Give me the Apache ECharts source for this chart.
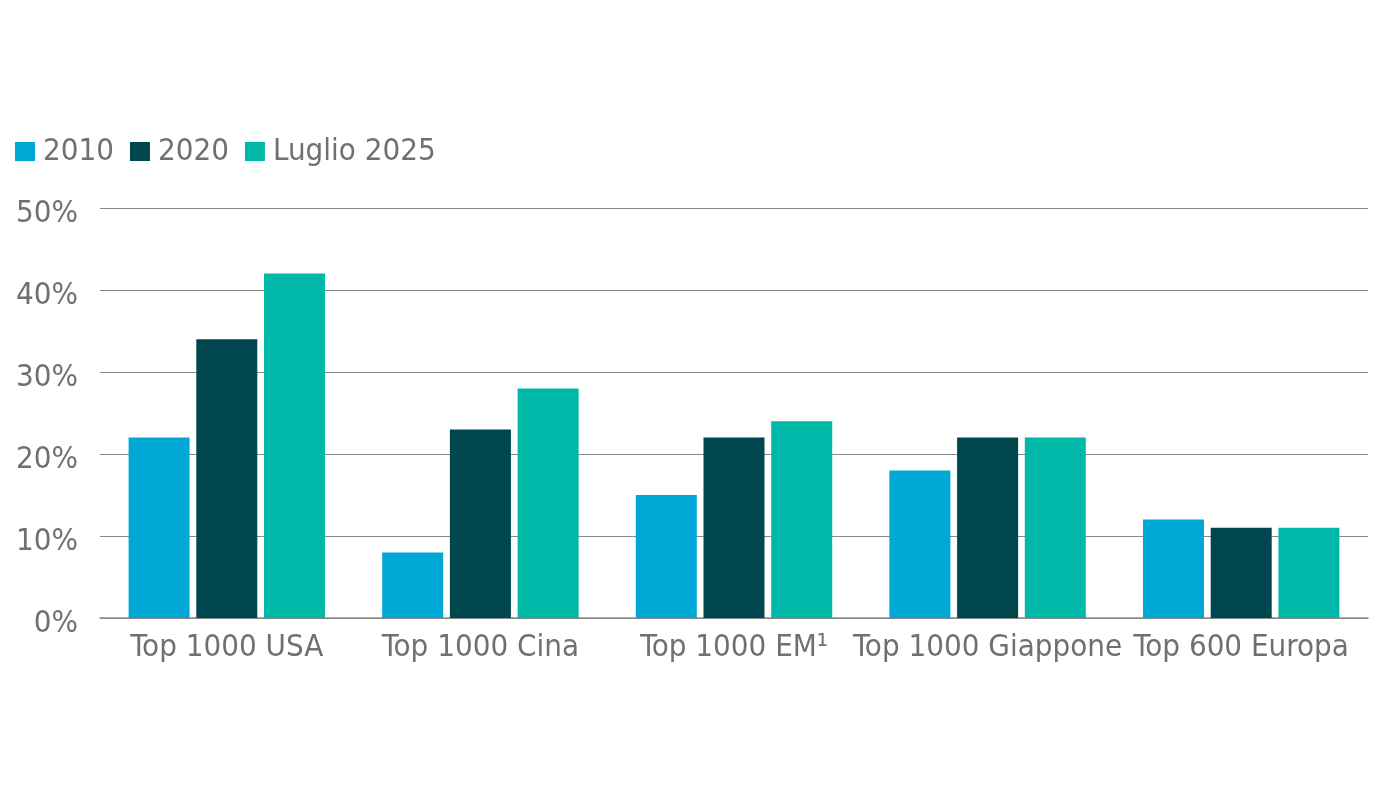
<!DOCTYPE html>
<html>
<head>
<meta charset="utf-8">
<script src="https://cdn.jsdelivr.net/npm/echarts@6/dist/echarts.min.js"></script>
<style>html,body{margin:0;padding:0;background:#fff}#c{width:1380px;height:800px}</style>
</head>
<body>
<div id="c"></div>
<script>
const categories = ['Top 1000 USA', 'Top 1000 Cina', 'Top 1000 EM\u00B9', 'Top 1000 Giappone', 'Top 600 Europa'];
const seriesNames = ['2010', '2020', 'Luglio 2025'];
const v2010 = [22, 8, 15, 18, 12];
const v2020 = [34, 23, 22, 22, 11];
const v2025 = [42, 28, 24, 22, 11];
const colors = ['#00a8d6', '#00464f', '#00b8a8'];
const FONT = '"Liberation Sans Narrow", "DejaVu Sans Condensed", "Roboto", sans-serif';
const TXT = '#707070';

const chart = echarts.init(document.getElementById('c'));
const mk = (name, data, i) => ({
  name, type: 'bar', data, barWidth: 61, barGap: '11%',
  itemStyle: { color: colors[i] }
});
chart.setOption({
  animation: false,
  textStyle: { fontFamily: FONT },
  legend: {
    left: 10, top: 131, itemWidth: 20, itemHeight: 19, itemGap: 16,
    icon: 'rect',
    textStyle: { fontFamily: FONT, fontSize: 31, color: TXT, padding: [0, 0, 0, 3] },
    data: seriesNames
  },
  grid: { left: 100, right: 12, top: 208, bottom: 182 },
  xAxis: {
    type: 'category', data: categories,
    axisLine: { lineStyle: { color: '#8a8a8a', width: 1.5 } },
    axisTick: { show: false },
    axisLabel: { fontFamily: FONT, fontSize: 31, color: TXT, margin: 14, interval: 0 }
  },
  yAxis: {
    type: 'value', min: 0, max: 50, interval: 10,
    axisLine: { show: false }, axisTick: { show: false },
    splitLine: { lineStyle: { color: '#8a8a8a', width: 1.2 } },
    axisLabel: {
      fontFamily: FONT, fontSize: 31, color: TXT, margin: 22,
      formatter: v => '{a|' + v + '%}',
      rich: { a: { fontFamily: FONT, fontSize: 31, color: TXT, padding: [12, 0, 0, 0] } }
    }
  },
  series: [mk(seriesNames[0], v2010, 0), mk(seriesNames[1], v2020, 1), mk(seriesNames[2], v2025, 2)]
});
</script>
</body>
</html>
